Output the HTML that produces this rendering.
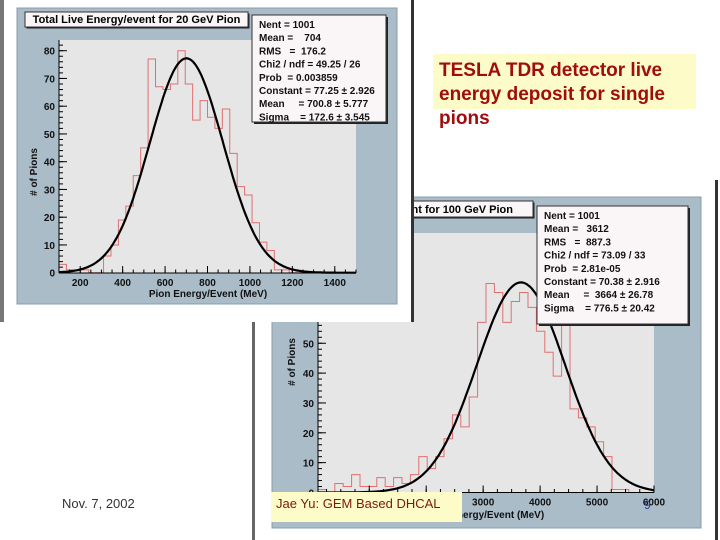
<!DOCTYPE html>
<html><head><meta charset="utf-8"><style>
body{margin:0;background:#fff;}
svg{display:block;font-family:"Liberation Sans",sans-serif;}
.tk{font-size:10px;font-weight:bold;fill:#111;}
.st{font-size:10px;font-weight:bold;fill:#111;white-space:pre;}
</style></head><body>
<svg id="s" width="720" height="540" viewBox="0 0 720 540" xmlns="http://www.w3.org/2000/svg">
<g id="c2"></g>
<rect x="0" y="0" width="413" height="322" fill="#fff"/>
<g id="c1"></g>
<rect x="0" y="0" width="4" height="322" fill="#777"/>
<rect x="411" y="0" width="3" height="322" fill="#333"/>
<rect x="252" y="322" width="3" height="218" fill="#666"/>
<rect x="715" y="180" width="3" height="360" fill="#333"/>
<g>
<rect x="433" y="54" width="263" height="55" fill="#fdfbc8"/>
<text x="439" y="76" font-size="19" font-weight="bold" fill="#a00d0d">TESLA TDR detector live</text>
<text x="439" y="100" font-size="19" font-weight="bold" fill="#a00d0d">energy deposit for single</text>
<text x="439" y="124" font-size="19" font-weight="bold" fill="#a00d0d">pions</text>
</g>
<text x="62" y="508" font-size="13" fill="#333">Nov. 7, 2002</text>
<g>
<rect x="271" y="492" width="191" height="30" fill="#fdfbc8"/>
<text x="276" y="508" font-size="13" fill="#7a1a0a">Jae Yu: GEM Based DHCAL</text>
</g>
<text x="644" y="509" font-size="12" fill="#2a3a9a">9</text>
</svg>
<script>
// ---- chart 1 data (20 GeV) ----
const c1Counts = [3,1,1,1,0,0,6,10,19,24,35,45,77,67,66,68,80,68,55,62,56,52,59,43,31,28,18,11,8,1,1,0,0,0,0,0,0,0,0,0];
const c1Range = [100,1500];
const c1Fit = [77.25,700.8,172.6];
const c1XTicks = [200,400,600,800,1000,1200,1400];
const c1YTicks = [0,10,20,30,40,50,60,70,80];
const c1Stats = ["Nent = 1001","Mean =    704","RMS   =  176.2","Chi2 / ndf = 49.25 / 26","Prob  = 0.003859","Constant = 77.25 \u00b1 2.926","Mean     = 700.8 \u00b1 5.777","Sigma    = 172.6 \u00b1 3.545"];
// ---- chart 2 data (100 GeV) ----
const c2Counts = [1,0,3,2,6,2,2,5,2,5,3,6,12,8,12,18,26,22,32,57,70,67,57,64,67,62,54,47,39,56,28,25,22,17,12,1,1,0,0,0];
const c2Range = [100,6000];
const c2Fit = [70.38,3664,776.5];
const c2XTicks = [1000,2000,3000,4000,5000,6000];
const c2YTicks = [0,10,20,30,40,50,60,70,80];
const c2Stats = ["Nent = 1001","Mean =   3612","RMS   =  887.3","Chi2 / ndf = 73.09 / 33","Prob  = 2.81e-05","Constant = 70.38 \u00b1 2.916","Mean     =  3664 \u00b1 26.78","Sigma    = 776.5 \u00b1 20.42"];

const NS="http://www.w3.org/2000/svg";
function mk(parent,tag,attrs,text){const e=document.createElementNS(NS,tag);for(const k in attrs)e.setAttribute(k,attrs[k]);if(text!==undefined)e.textContent=text;parent.appendChild(e);return e;}

function drawChart(g,cfg){
  const F=cfg.frame,P=cfg.plot;
  const fr=mk(g,'rect',{x:F[0],y:F[1],width:F[2],height:F[3],fill:'#a9bcc8',stroke:'#8a9ca8'});
  
  
  const pb=mk(g,'rect',{x:P[0],y:P[1],width:P[2],height:P[3],fill:'#e6e6e6'});
  
  
  const xs=v=>P[0]+(v-cfg.range[0])/(cfg.range[1]-cfg.range[0])*P[2];
  const ys=v=>cfg.y0-v*cfg.ypu;
  const bw=(cfg.range[1]-cfg.range[0])/cfg.counts.length;
  let d='M'+xs(cfg.range[0])+','+ys(0);
  cfg.counts.forEach((c,i)=>{const a=cfg.range[0]+i*bw;d+=' L'+xs(a)+','+ys(c)+' L'+xs(a+bw)+','+ys(c);});
  d+=' L'+xs(cfg.range[1])+','+ys(0);
  const h=mk(g,'path',{d:d,fill:'none',stroke:'#e07070','stroke-width':1});
  
  
  let cd='';
  for(let i=0;i<=200;i++){const v=cfg.range[0]+(cfg.range[1]-cfg.range[0])*i/200;const y=cfg.fit[0]*Math.exp(-0.5*Math.pow((v-cfg.fit[1])/cfg.fit[2],2));cd+=(i?' L':'M')+xs(v).toFixed(1)+','+ys(y).toFixed(1);}
  const fc=mk(g,'path',{d:cd,fill:'none',stroke:'#000','stroke-width':2.2});
  
  
  const bot=P[1]+P[3];
  mk(g,'line',{x1:P[0],y1:bot,x2:P[0]+P[2],y2:bot,stroke:'#000'});
  mk(g,'line',{x1:P[0],y1:P[1],x2:P[0],y2:bot,stroke:'#000'});
  cfg.xt.forEach(t=>{const x=xs(t);if(x<P[0]-1||x>P[0]+P[2]+1)return;mk(g,'line',{x1:x,y1:bot,x2:x,y2:bot-7,stroke:'#000'});
    const tl=mk(g,'text',{x:x,y:bot+13,'text-anchor':'middle',class:'tk'},String(t));
    
    });
  for(let v=cfg.xt[0]-cfg.xminor*Math.floor((cfg.xt[0]-cfg.range[0])/cfg.xminor);v<=cfg.range[1];v+=cfg.xminor){mk(g,'line',{x1:xs(v),y1:bot,x2:xs(v),y2:bot-3.5,stroke:'#000'});}
  cfg.yt.forEach(t=>{const y=ys(t);if(y<P[1])return;mk(g,'line',{x1:P[0],y1:y,x2:P[0]+8,y2:y,stroke:'#000'});
    const tl=mk(g,'text',{x:P[0]-4,y:y+4,'text-anchor':'end',class:'tk'},String(t));
    
    });
  for(let v=0;ys(v)>=P[1];v+=2){mk(g,'line',{x1:P[0],y1:ys(v),x2:P[0]+4,y2:ys(v),stroke:'#000'});}
  const xt=mk(g,'text',{x:cfg.xlab[0],y:cfg.xlab[1],'text-anchor':'middle',class:'tk','font-size':'11'},'Pion Energy/Event (MeV)');
  
  
  const yt=mk(g,'text',{x:0,y:0,transform:'translate('+cfg.ylab[0]+','+cfg.ylab[1]+') rotate(-90)','text-anchor':'middle',class:'tk'},'# of Pions');
  
  
  const T=cfg.title;
  mk(g,'rect',{x:T[0]+1.5,y:T[1]+1.5,width:T[2],height:T[3],fill:'#222'});
  const tb=mk(g,'rect',{x:T[0],y:T[1],width:T[2],height:T[3],fill:'#faf5f7',stroke:'#333'});
  
  
  const tt=mk(g,'text',{x:cfg.titleEnd?T[0]+T[2]-20:T[0]+T[2]/2,y:T[1]+T[3]-4,'text-anchor':cfg.titleEnd?'end':'middle','font-size':'11','font-weight':'bold'},cfg.titleText);
  
  
  const S=cfg.stats;
  mk(g,'rect',{x:S[0]+2,y:S[1]+2,width:S[2],height:S[3],fill:'#222'});
  const sb=mk(g,'rect',{x:S[0],y:S[1],width:S[2],height:S[3],fill:'#faf5f7',stroke:'#333'});
  
  
  cfg.statLines.forEach((s,i)=>{const t=mk(g,'text',{x:S[0]+7,y:S[1]+13+i*13.2,class:'st'},s);
    
    });
}

drawChart(document.getElementById('c2'),{
  frame:[272,197,429,331],plot:[318,233,336,259.5],range:c2Range,y0:492.5,ypu:2.985,
  counts:c2Counts,fit:c2Fit,xt:c2XTicks,yt:c2YTicks,xminor:250,
  xlab:[485,518],ylab:[295,362],title:[300,201,233,16],titleEnd:true,titleText:'Total Live Energy/event for 100 GeV Pion',
  stats:[537,206,151,118],statLines:c2Stats});
drawChart(document.getElementById('c1'),{
  frame:[17,8,380,296],plot:[59,40,297,233],range:c1Range,y0:272.7,ypu:2.775,
  counts:c1Counts,fit:c1Fit,xt:c1XTicks,yt:c1YTicks,xminor:50,
  xlab:[208,297],ylab:[37,172],title:[25,12,223,15],titleText:'Total Live Energy/event for 20 GeV Pion',
  stats:[252,15,134,107],statLines:c1Stats});
</script>
</body></html>
